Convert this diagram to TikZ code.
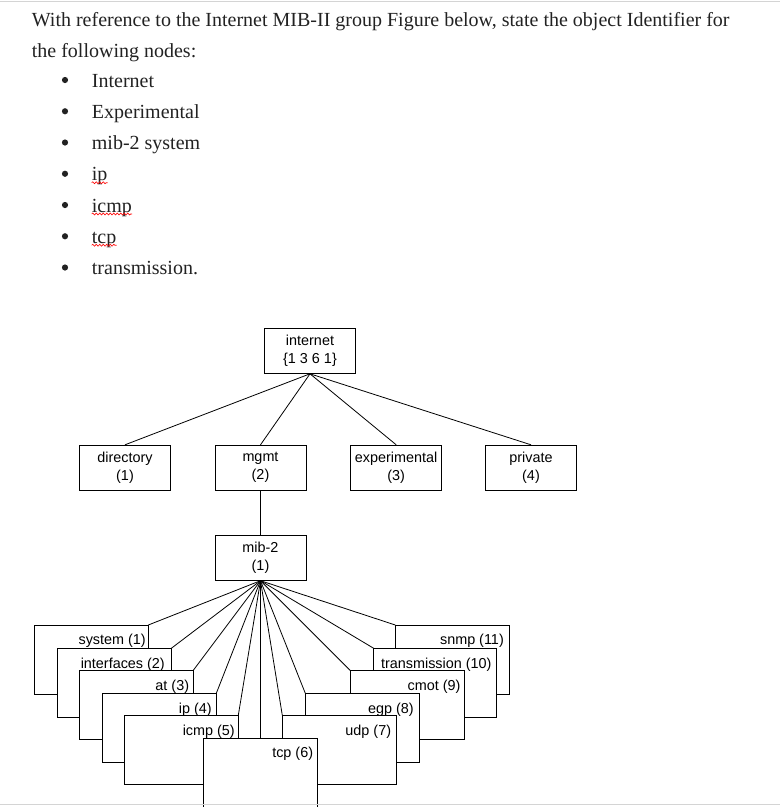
\documentclass[tikz,border=0pt]{standalone}
\usepackage{fontspec}
\setmainfont{Liberation Serif}
\newfontfamily\arialf{Liberation Sans}
\usetikzlibrary{decorations.pathmorphing}
\definecolor{bodytext}{HTML}{222222}
\definecolor{rulegray}{HTML}{D4D4D4}
\begin{document}
\begin{tikzpicture}[x=1pt,y=-1pt,
  topbox/.style={draw, line width=1pt, fill=white, minimum width=91pt, minimum height=45pt,
    inner sep=0pt, align=center, font=\arialf\fontsize{14.4}{18}\selectfont},
  leafbox/.style={draw, line width=1pt, fill=white, minimum width=113pt, minimum height=68pt,
    inner sep=0pt, anchor=north west},
  leaflbl/.style={font=\arialf\fontsize{14.4}{17}\selectfont, inner sep=0pt, anchor=east,
    text height=10.5pt, text depth=3pt},
  conn/.style={line width=0.8pt},
  body/.style={font=\fontsize{20}{24}\selectfont, inner sep=0pt, anchor=base west, text=bodytext},
  squig/.style={draw=red, line width=0.6pt, decorate,
    decoration={snake, amplitude=1pt, segment length=3.5pt}}
]
\useasboundingbox (0,0) rectangle (780,807);

% page rule
\draw[line width=1.5pt, rulegray] (0,1.5) -- (780,1.5);

% question text
\node[body] (l1) at (31.7,26) {With reference to the Internet MIB-II group Figure below, state the object Identifier for};
\node[body] (l2) at (31.7,57) {the following nodes:};
\foreach \i/\t/\n in {0/Internet/it0, 1/Experimental/it1, 2/mib-2 system/it2, 3/ip/it3, 4/icmp/it4, 5/tcp/it5, 6/transmission./it6}{
  \fill[bodytext] (65,80+31.25*\i) circle (3.1pt);
  \node[body] (\n) at (91.7,87+31.25*\i) {\t};
}
\draw[squig] ([yshift=-2pt]it3.base west) -- ([yshift=-2pt]it3.base east);
\draw[squig] ([yshift=-2pt]it4.base west) -- ([yshift=-2pt]it4.base east);
\draw[squig] ([yshift=-2pt]it5.base west) -- ([yshift=-2pt]it5.base east);

% upper tree
\node[topbox] (internet) at (310,350.8) {internet\\\{1 3 6 1\}};
\node[topbox] (directory) at (125,467.8) {directory\\(1)};
\node[topbox] (mgmt) at (260.5,467.8) {mgmt\\(2)};
\node[topbox] (experimental) at (396.2,467.8) {experimental\\(3)};
\node[topbox] (private) at (531,467.8) {private\\(4)};
\node[topbox] (mib2) at (260.5,557.7) {mib-2\\(1)};

\draw[conn] (internet.south) -- (directory.north);
\draw[conn] (internet.south) -- (mgmt.north);
\draw[conn] (internet.south) -- (experimental.north);
\draw[conn] (internet.south) -- (private.north);
\draw[conn] (mgmt.south) -- (mib2.north);

% leaf boxes: invisible placement first, so connectors can end at their corners
\begin{scope}[every node/.style={leafbox, draw=none, fill=none}]
  \node (sys)   at (34.3,625)    {};
  \node (intf)  at (57.3,648.3)  {};
  \node (at)    at (79.3,670.3)  {};
  \node (ip)    at (102.3,693.3) {};
  \node (icmp)  at (124.3,715.3) {};
  \node[minimum height=80pt] (tcp) at (203.3,738) {};
  \node (udp)   at (282.3,715.3) {};
  \node (egp)   at (305.3,693.3) {};
  \node (cmot)  at (350,670.3)   {};
  \node[minimum width=122pt] (trans) at (373.7,648.3) {};
  \node (snmp)  at (395.3,625)   {};
\end{scope}

% connectors from mib-2
\draw[conn] (mib2.south) -- (sys.north east);
\draw[conn] (mib2.south) -- (intf.north east);
\draw[conn] (mib2.south) -- (at.north east);
\draw[conn] (mib2.south) -- (ip.north east);
\draw[conn] (mib2.south) -- (icmp.north east);
\draw[conn] (mib2.south) -- (mib2.south |- tcp.north);
\draw[conn] (mib2.south) -- (udp.north west);
\draw[conn] (mib2.south) -- (egp.north west);
\draw[conn] (mib2.south) -- (cmot.north west);
\draw[conn] (mib2.south) -- (trans.north west);
\draw[conn] (mib2.south) -- (snmp.north west);

% visible leaf boxes, back to front
\foreach \b in {sys,intf,at,ip,icmp,snmp,trans,cmot,egp,udp}{
  \draw[line width=1pt, fill=white] (\b.north west) rectangle (\b.south east);
}
\draw[line width=1pt, fill=white] (tcp.north west) rectangle (tcp.south east);

% leaf labels
\node[leaflbl] (lsys)   at (146,641)     {system (1)};
\node[leaflbl] (lintf)  at (165,664.3)   {interfaces (2)};
\node[leaflbl] (lat)    at (189.3,686.3) {at (3)};
\node[leaflbl] (lip)    at (212,709.3)   {ip (4)};
\node[leaflbl] (licmp)  at (235,731.3)   {icmp (5)};
\node[leaflbl] (ltcp)   at (313.3,754)   {tcp (6)};
\node[leaflbl] (ludp)   at (391.3,731.3) {udp (7)};
\node[leaflbl] (legp)   at (414,709.3)   {egp (8)};
\node[leaflbl] (lcmot)  at (460.7,686.3) {cmot (9)};
\node[leaflbl] (ltrans) at (491.7,664.3) {transmission (10)};
\node[leaflbl] (lsnmp)  at (504,641)     {snmp (11)};

% bottom page rule
\draw[line width=1.5pt, rulegray] (0,804.5) -- (780,804.5);
\end{tikzpicture}
\end{document}
